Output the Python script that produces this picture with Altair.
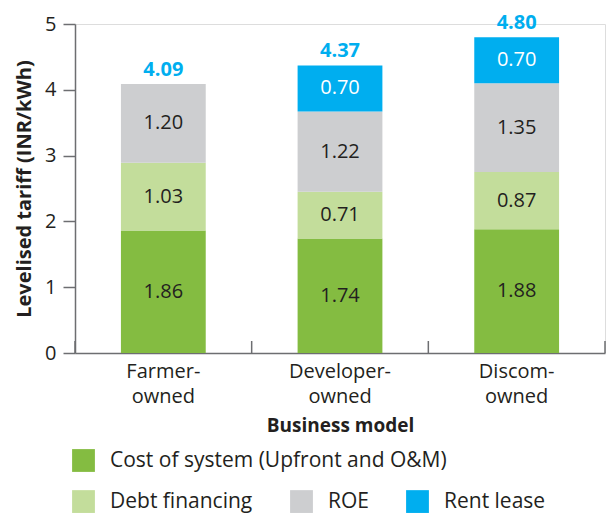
import altair as alt
import pandas as pd

models = ["Farmer-owned", "Developer-owned", "Discom-owned"]
series = ["Cost of system (Upfront and O&M)", "Debt financing", "ROE", "Rent lease"]
cost = [1.86, 1.74, 1.88]
debt = [1.03, 0.71, 0.87]
roe = [1.20, 1.22, 1.35]
rent = [0.0, 0.70, 0.70]
colors = ["#84BC41", "#C3DD9B", "#CDCED0", "#00AEEF"]

rows = []
for i, m in enumerate(models):
    for j, (s, vals) in enumerate(zip(series, [cost, debt, roe, rent])):
        if vals[i] > 0:
            rows.append({"model": m, "series": s, "order": j, "value": vals[i]})
df = pd.DataFrame(rows)

FONT = "Open Sans"
W, H = 530, 329
AX = "#6D6E71"
TXT = "#231F20"

base = alt.Chart(df).transform_stack(
    stack="value", groupby=["model"], sort=[alt.SortField("order")], as_=["y0", "y1"]
).transform_calculate(mid="(datum.y0 + datum.y1) / 2")

xenc = alt.X(
    "model:N",
    sort=models,
    scale=alt.Scale(paddingInner=0, paddingOuter=0),
    axis=alt.Axis(
        title="Business model",
        ticks=False,
        labelAngle=0,
        labelFontSize=20,
        labelColor=TXT,
        labelPadding=8,
        labelLineHeight=25,
        labelExpr="[slice(datum.label, 0, indexof(datum.label, '-') + 1), slice(datum.label, indexof(datum.label, '-') + 1)]",
        titleFontSize=19,
        titleFontWeight="bold",
        titleColor=TXT,
        titlePadding=10,
        domainColor=AX,
        domainWidth=1.5,
    ),
)
yscale = alt.Scale(domain=[0, 5], nice=False)
yaxis = alt.Axis(
    title="Levelised tariff (INR/kWh)",
    values=[0, 1, 2, 3, 4, 5],
    format="d",
    grid=False,
    tickSize=12,
    tickColor=AX,
    tickWidth=1.5,
    domainColor=AX,
    domainWidth=1.5,
    labelFontSize=20,
    labelColor=TXT,
    labelPadding=7,
    titleFontSize=20,
    titleFontWeight="bold",
    titleColor=TXT,
    titlePadding=10,
)

legend_common = dict(
    title=None, orient="none", direction="horizontal",
    symbolType="square", symbolSize=520, symbolStrokeWidth=0, symbolOpacity=1,
    labelFontSize=21, labelColor=TXT, labelOffset=15, labelFont=FONT, labelLimit=0,
)

bars_cost = base.transform_filter(alt.datum.order == 0).mark_bar(width={"band": 0.48}).encode(
    x=xenc,
    y=alt.Y("y0:Q", scale=yscale, axis=yaxis),
    y2="y1:Q",
    color=alt.Color(
        "series:N",
        scale=alt.Scale(domain=series[:1], range=colors[:1]),
        legend=alt.Legend(legendX=-3, legendY=425, **legend_common),
    ),
)

bars_rest = base.transform_filter(alt.datum.order > 0).mark_bar(width={"band": 0.48}).encode(
    x=xenc,
    y=alt.Y("y0:Q", scale=yscale, axis=yaxis),
    y2="y1:Q",
    color=alt.Color(
        "series:N",
        scale=alt.Scale(domain=series[1:], range=colors[1:]),
        sort=series[1:],
        legend=alt.Legend(legendX=-3, legendY=466, columns=3, columnPadding=37, **legend_common),
    ),
)

seg_text = base.mark_text(fontSize=20, font=FONT, baseline="middle").encode(
    x=alt.X("model:N", sort=models),
    y=alt.Y("mid:Q", scale=yscale),
    text=alt.Text("value:Q", format=".2f"),
    color=alt.condition(alt.datum.series == "Rent lease", alt.value("white"), alt.value(TXT)),
)

tot_text = alt.Chart(df).transform_aggregate(
    total="sum(value)", groupby=["model"]
).mark_text(fontSize=20, font=FONT, fontWeight="bold", color="#00AEEF", baseline="bottom", dy=-4).encode(
    x=alt.X("model:N", sort=models),
    y=alt.Y("total:Q", scale=yscale),
    text=alt.Text("total:Q", format=".2f"),
)

tick_df = pd.DataFrame({"model": models})
ticks_start = alt.Chart(tick_df).mark_rule(color=AX, strokeWidth=1.5).encode(
    x=alt.X("model:N", sort=models, bandPosition=0),
    y=alt.value(H - 12),
    y2=alt.value(H),
)
ticks_end = alt.Chart(tick_df).transform_filter(alt.datum.model == models[-1]).mark_rule(
    color=AX, strokeWidth=1.5
).encode(
    x=alt.X("model:N", sort=models, bandPosition=1),
    y=alt.value(H - 12),
    y2=alt.value(H),
)

chart = alt.layer(bars_cost, bars_rest, seg_text, tot_text, ticks_start, ticks_end).resolve_scale(
    color="independent"
).properties(
    width=W, height=H, autosize="none",
    padding={"left": 67, "top": 16, "right": 1, "bottom": 161},
    background="white",
).configure_view(stroke=None).configure(font=FONT)

chart.save("out.html", embed_options={"renderer": "svg", "actions": False})
